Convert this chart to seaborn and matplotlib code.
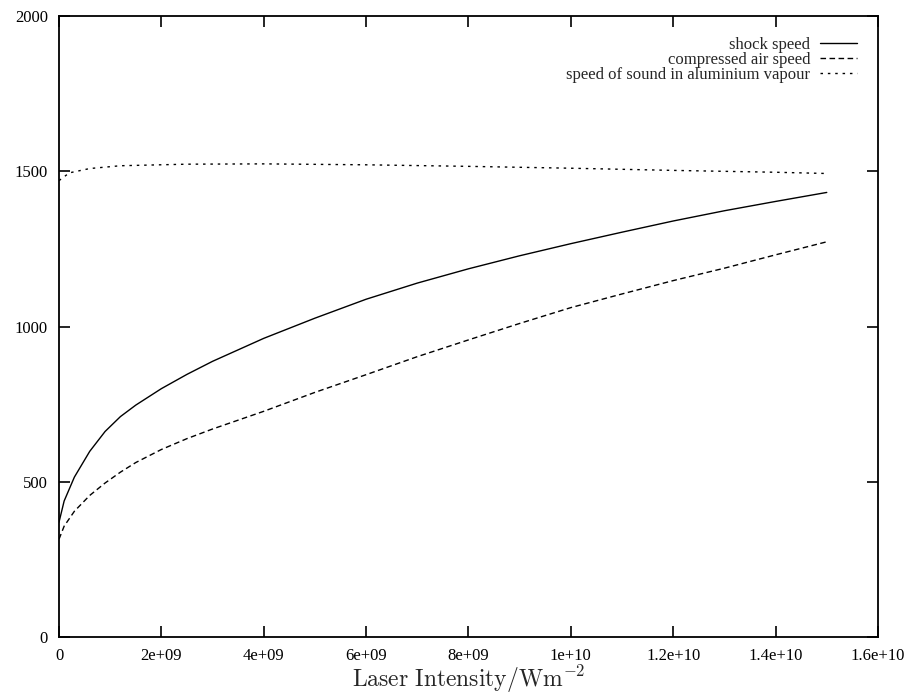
import pandas as pd
import matplotlib
matplotlib.use('Agg')
import matplotlib.pyplot as plt
import seaborn as sns

# laser intensity in units of 1e9 W/m^2
intensity = [0, 0.1, 0.3, 0.6, 0.9, 1.2, 1.5, 2, 2.5, 3, 4, 5, 6, 7, 8, 9, 10, 11, 12, 13, 14, 15]
shock_speed = [370, 438, 515, 598, 662, 710, 747, 800, 846, 888, 962, 1027, 1088, 1140, 1186,
               1228, 1267, 1304, 1340, 1373, 1403, 1432]
air_speed = [315, 357, 405, 456, 496, 531, 562, 604, 639, 670, 727, 788, 845, 903, 957,
             1010, 1061, 1105, 1148, 1188, 1231, 1273]

sound_x = [0, 0.2, 0.6, 1.2, 2.5, 4, 6, 8, 10, 12, 14, 15]
sound_speed = [1470, 1495, 1509, 1518, 1523, 1524, 1521, 1516, 1510, 1503, 1497, 1493]

xticks = [0, 2e9, 4e9, 6e9, 8e9, 1e10, 1.2e10, 1.4e10, 1.6e10]
xtick_labels = ['0', '2e+09', '4e+09', '6e+09', '8e+09', '1e+10', '1.2e+10', '1.4e+10', '1.6e+10']
yticks = [0, 500, 1000, 1500, 2000]

names = ['shock speed', 'compressed air speed', 'speed of sound in aluminium vapour']

df = pd.concat([
    pd.DataFrame({'I': [v * 1e9 for v in intensity], 'speed': shock_speed, 'series': names[0]}),
    pd.DataFrame({'I': [v * 1e9 for v in intensity], 'speed': air_speed, 'series': names[1]}),
    pd.DataFrame({'I': [v * 1e9 for v in sound_x], 'speed': sound_speed, 'series': names[2]}),
])

sns.set_style('ticks')
plt.rcParams['font.family'] = ['Liberation Serif', 'DejaVu Serif']
plt.rcParams['mathtext.fontset'] = 'cm'

fig = plt.figure(figsize=(9.15, 7), dpi=100)
ax = fig.add_axes([0.0645, 0.09, 0.895, 0.887])

sns.lineplot(data=df, x='I', y='speed', hue='series', style='series',
             palette=['black'] * 3, hue_order=names, style_order=names,
             dashes={names[0]: '', names[1]: (4, 2.5), names[2]: (1.8, 3.5)},
             linewidth=1.0, ax=ax, sort=False)

ax.set_xlim(0, 1.6e10)
ax.set_ylim(0, 2000)
ax.set_xticks(xticks)
ax.set_xticklabels(xtick_labels)
ax.set_yticks(yticks)
ax.set_yticklabels([str(v) for v in yticks])
ax.tick_params(direction='in', length=8, width=1.2, top=True, right=True,
               labelsize=12, colors='black')
ax.tick_params(axis='x', pad=8)
ax.tick_params(axis='y', pad=8)
for s in ax.spines.values():
    s.set_linewidth(1.3)
    s.set_color('black')

ax.set_xlabel(r'$\mathrm{Laser\ Intensity/Wm^{-2}}$', fontsize=17, labelpad=0)
ax.set_ylabel('')

leg = ax.legend(loc='upper right', frameon=False, markerfirst=False, fontsize=12,
                handlelength=2.2, labelspacing=-0.05, borderaxespad=0.85, handletextpad=0.6)
for line in leg.get_lines():
    line.set_linewidth(1.0)
for t in leg.get_texts():
    t.set_ha('right')

fig.savefig('out.png', dpi=100)
